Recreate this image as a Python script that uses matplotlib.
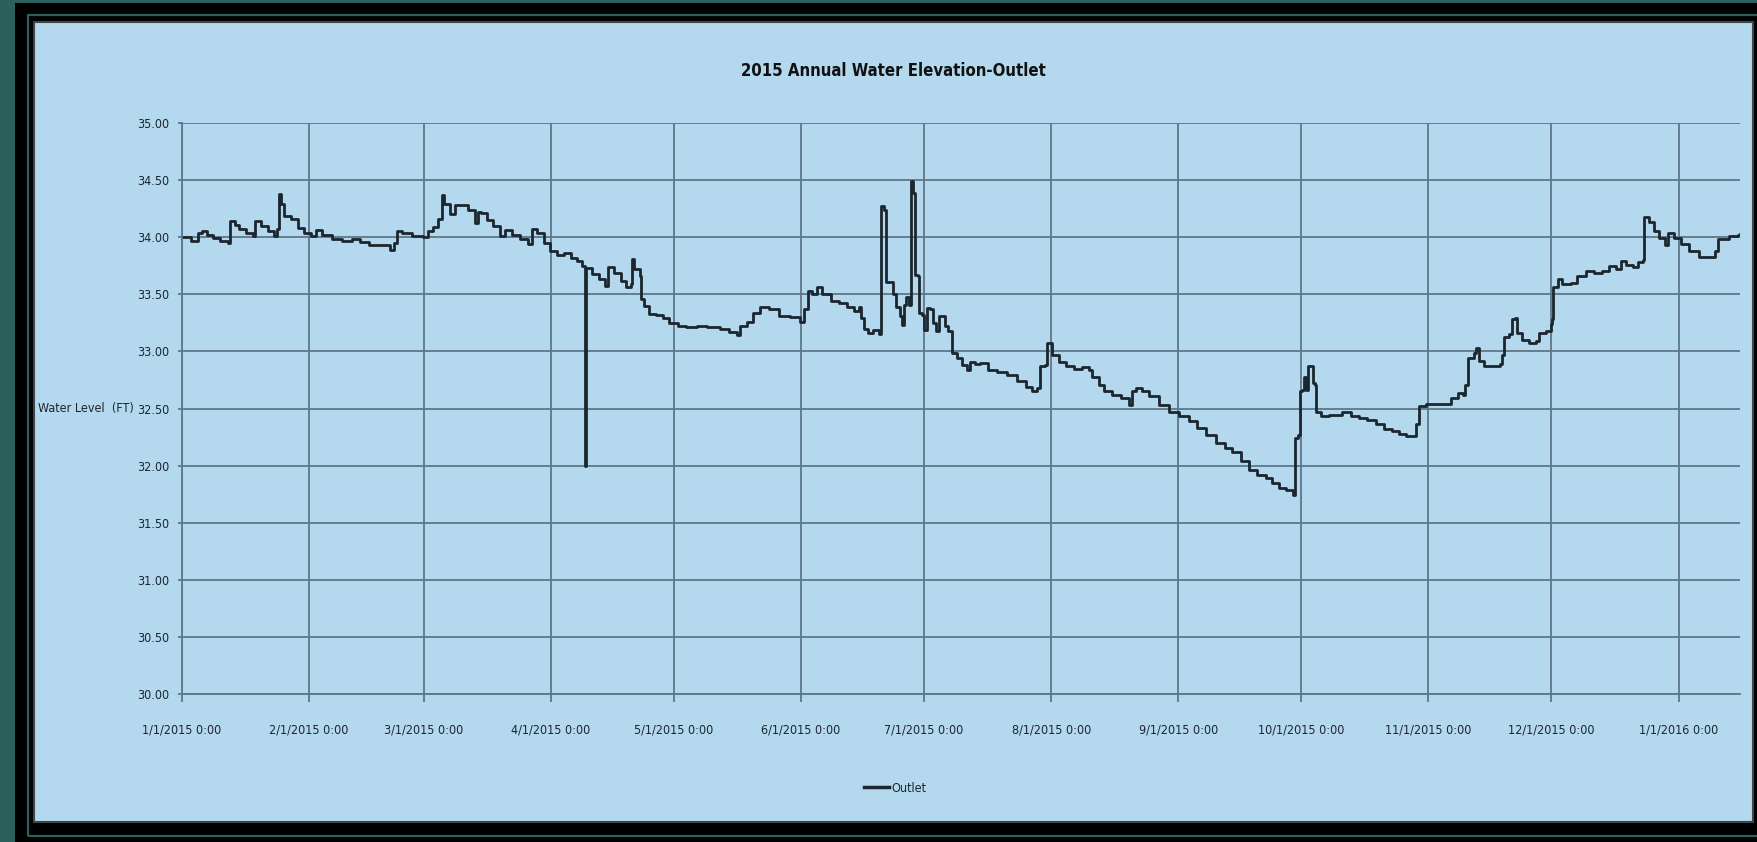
import datetime as dt

import matplotlib
matplotlib.use("Agg")
import matplotlib.pyplot as plt
import matplotlib.dates as mdates
from matplotlib.patches import Rectangle
from matplotlib.ticker import FuncFormatter, MultipleLocator

# outlet water level, days counted from 1/1/2015 0:00
start = dt.datetime(2015, 1, 1)
day = [
    0.0, 2.3, 4.0, 4.8, 6.0, 7.6, 9.2, 11.2, 11.8, 13.0, 14.0, 15.7, 17.3, 17.9,
    19.3, 20.9, 22.5, 23.2, 23.6, 24.2, 24.9, 26.5, 28.2, 29.8, 31.4, 32.6, 34.2,
    36.6, 39.1, 41.5, 43.5, 45.5, 48.0, 50.8, 51.6, 52.4, 53.6, 56.0, 58.8, 60.0,
    61.3, 62.5, 63.4, 64.0, 65.3, 66.5, 68.9, 69.8, 71.4, 72.2, 73.0, 74.3, 75.9,
    77.5, 78.8, 80.4, 82.5, 84.5, 85.3, 86.6, 88.2, 89.8, 91.5, 93.1, 94.8, 96.4,
    97.6, 98.3, 98.4, 98.5, 100.0, 101.7, 103.2, 104.0, 105.4, 107.0, 108.3, 109.4,
    109.7, 110.3, 111.6, 112.0, 112.8, 114.0, 115.7, 117.3, 118.9, 121.0, 123.0,
    125.5, 128.0, 131.2, 133.3, 135.3, 136.1, 137.8, 139.3, 141.0, 143.1, 145.5,
    148.4, 150.8, 151.7, 152.7, 153.7, 154.9, 156.2, 158.2, 160.3, 162.3, 164.0,
    165.2, 165.6, 166.4, 167.2, 168.5, 169.9, 170.5, 171.3, 171.6, 172.6, 173.4,
    174.2, 175.0, 175.7, 176.0, 176.7, 177.3, 177.7, 178.3, 178.7, 179.5, 179.8,
    180.6, 181.0, 181.6, 182.5, 183.2, 184.0, 184.7, 185.5, 186.1, 186.9, 187.7,
    189.0, 190.2, 191.4, 192.2, 193.5, 194.7, 196.7, 198.8, 201.2, 203.7, 205.8,
    207.4, 208.6, 209.3, 210.4, 210.9, 211.7, 212.3, 213.9, 215.5, 217.6, 219.6,
    221.2, 222.0, 223.7, 224.9, 226.9, 229.0, 231.0, 231.6, 232.6, 234.2, 235.8,
    238.3, 240.7, 243.2, 245.6, 247.6, 249.7, 252.1, 254.5, 256.2, 258.2, 260.2,
    262.3, 264.3, 265.9, 267.6, 269.2, 271.0, 271.5, 272.3, 272.6, 273.2, 273.7,
    274.2, 274.7, 275.5, 275.9, 276.3, 276.7, 277.7, 279.7, 281.4, 283.0, 285.0,
    287.0, 289.1, 291.1, 293.2, 295.2, 296.8, 298.5, 300.3, 300.9, 301.6, 303.3,
    305.8, 308.2, 309.4, 311.1, 312.5, 312.9, 313.7, 315.1, 315.7, 316.4, 317.6,
    319.6, 321.4, 322.0, 322.5, 323.7, 324.5, 325.1, 325.7, 326.9, 328.6, 330.2,
    331.0, 332.6, 333.8, 334.2, 334.5, 335.5, 336.7, 338.7, 340.3, 342.4, 344.4,
    346.4, 348.1, 349.7, 350.9, 352.1, 353.8, 355.0, 356.4, 356.7, 357.8, 359.0,
    360.3, 361.7, 362.5, 363.9, 365.5, 367.6, 370.0, 372.9, 373.9, 374.7, 376.1,
    377.3, 379.6, 380.0,
]
level = [
    34.00, 33.97, 34.04, 34.05, 34.02, 33.99, 33.97, 33.95, 34.14, 34.11, 34.07, 34.04, 34.01, 34.14,
    34.10, 34.05, 34.01, 34.07, 34.38, 34.29, 34.19, 34.16, 34.08, 34.04, 34.01, 34.06, 34.02,
    33.98, 33.97, 33.98, 33.96, 33.93, 33.93, 33.89, 33.95, 34.05, 34.04, 34.01, 34.00, 34.05,
    34.09, 34.16, 34.37, 34.29, 34.20, 34.28, 34.28, 34.24, 34.12, 34.22, 34.21, 34.15, 34.10,
    34.01, 34.06, 34.02, 33.98, 33.94, 34.07, 34.04, 33.95, 33.88, 33.84, 33.86, 33.82, 33.79,
    33.75, 33.73, 32.00, 33.73, 33.68, 33.63, 33.57, 33.74, 33.69, 33.62, 33.56, 33.59,
    33.81, 33.72, 33.66, 33.46, 33.40, 33.33, 33.32, 33.29, 33.25, 33.22, 33.21,
    33.22, 33.21, 33.20, 33.17, 33.14, 33.22, 33.26, 33.34, 33.39, 33.37, 33.31,
    33.30, 33.26, 33.37, 33.53, 33.50, 33.56, 33.50, 33.44, 33.42, 33.39, 33.35,
    33.39, 33.29, 33.20, 33.16, 33.19, 33.15, 34.27, 34.24, 33.61, 33.61, 33.50,
    33.39, 33.31, 33.23, 33.41, 33.48, 33.41, 34.49, 34.39, 33.67, 33.66, 33.34,
    33.32, 33.19, 33.38, 33.37, 33.25, 33.18, 33.31, 33.31, 33.22, 33.18, 32.99,
    32.94, 32.88, 32.84, 32.91, 32.89, 32.90, 32.84, 32.82, 32.79, 32.74, 32.69,
    32.65, 32.68, 32.87, 32.88, 33.07, 33.07, 32.97, 32.91, 32.87, 32.85, 32.86,
    32.84, 32.78, 32.71, 32.65, 32.62, 32.59, 32.53, 32.65, 32.68, 32.65, 32.61,
    32.53, 32.47, 32.43, 32.39, 32.33, 32.27, 32.20, 32.15, 32.12, 32.04, 31.96,
    31.92, 31.89, 31.85, 31.80, 31.79, 31.74, 32.24, 32.27, 32.65, 32.66, 32.78,
    32.66, 32.87, 32.87, 32.72, 32.71, 32.47, 32.43, 32.44, 32.44, 32.47, 32.43,
    32.42, 32.40, 32.36, 32.32, 32.30, 32.28, 32.26, 32.26, 32.36, 32.52, 32.54,
    32.54, 32.54, 32.59, 32.64, 32.62, 32.71, 32.94, 32.99, 33.03, 32.92, 32.87,
    32.87, 32.89, 32.97, 33.13, 33.15, 33.28, 33.29, 33.16, 33.10, 33.07, 33.09,
    33.16, 33.18, 33.24, 33.28, 33.56, 33.63, 33.59, 33.60, 33.66, 33.70, 33.69,
    33.70, 33.75, 33.72, 33.79, 33.76, 33.74, 33.78, 33.80, 34.18, 34.13, 34.05,
    33.99, 33.93, 34.04, 33.99, 33.94, 33.88, 33.83, 33.83, 33.88, 33.98, 33.98,
    34.01, 34.02, 34.03,
]

W, H = 1757, 842
teal = "#2c605d"
panel = "#b4d8ee"
grid_c = "#5f7788"
ink = "#1c262e"
font = ["Liberation Sans Narrow", "DejaVu Sans"]
plt.rcParams["font.stretch"] = "condensed"

fig = plt.figure(figsize=(W / 100, H / 100), dpi=100)
fig.patch.set_facecolor(teal)


def box(x0, y0, x1, y1, **kw):
    r = Rectangle((x0 / W, 1 - y1 / H), (x1 - x0) / W, (y1 - y0) / H,
                  transform=fig.transFigure, zorder=-10, **kw)
    fig.patches.append(r)


# framed slide background
box(15, 3, 1765, 842, fc="black", ec="none")
box(28, 15, 1775, 836, fill=False, ec=teal, lw=1.6)
box(34, 22, 1753, 822, fc=panel, ec="#3b474d", lw=1.5)

ax = fig.add_axes([182 / W, (H - 694) / H, 1558 / W, 571 / H])
ax.set_facecolor("none")

t0 = mdates.date2num(start)
x = [t0 + d for d in day]
ax.plot(x, level, drawstyle="steps-post", color=ink, lw=2.0, label="Outlet")

ax.set_ylim(30, 35)
ax.set_xlim(t0, t0 + 380)
ax.yaxis.set_major_locator(MultipleLocator(0.5))
ax.yaxis.set_major_formatter(FuncFormatter(lambda v, p: f"{v:.2f}"))
ax.xaxis.set_major_locator(mdates.MonthLocator())
ax.xaxis.set_major_formatter(FuncFormatter(
    lambda v, p: "{d.month}/{d.day}/{d.year} 0:00".format(d=mdates.num2date(v))))

ax.grid(True, color=grid_c, lw=1.3)
ax.set_axisbelow(True)
for s in ("top", "right"):
    ax.spines[s].set_visible(False)
for s in ("left", "bottom"):
    ax.spines[s].set_color(grid_c)
    ax.spines[s].set_linewidth(1.3)
ax.tick_params(axis="x", length=6, width=1.3, color=grid_c, pad=15,
               labelsize=9, labelcolor=ink)
ax.tick_params(axis="y", length=3, width=1.3, color=grid_c, pad=6,
               labelsize=9, labelcolor=ink)
for lab in ax.get_xticklabels() + ax.get_yticklabels():
    lab.set_family(font)

ax.set_ylabel("Water Level  (FT)", rotation=0, ha="right", va="center",
              fontsize=9, color=ink, family=font)
ax.yaxis.set_label_coords((134 - 182) / 1558, 0.5)

fig.text(893 / W, 1 - 71 / H, "2015 Annual Water Elevation-Outlet",
         ha="center", va="center", fontsize=12, fontweight="bold",
         color="#111111", family=font)

leg = fig.legend(loc="center", bbox_to_anchor=(895 / W, 1 - 788 / H),
                 frameon=False, handlelength=2.0, handletextpad=0.15,
                 prop={"family": font, "size": 9})
for t in leg.get_texts():
    t.set_color(ink)
for h in leg.legend_handles:
    h.set_linewidth(2.5)

fig.savefig("out.png", dpi=100, facecolor=fig.get_facecolor())
